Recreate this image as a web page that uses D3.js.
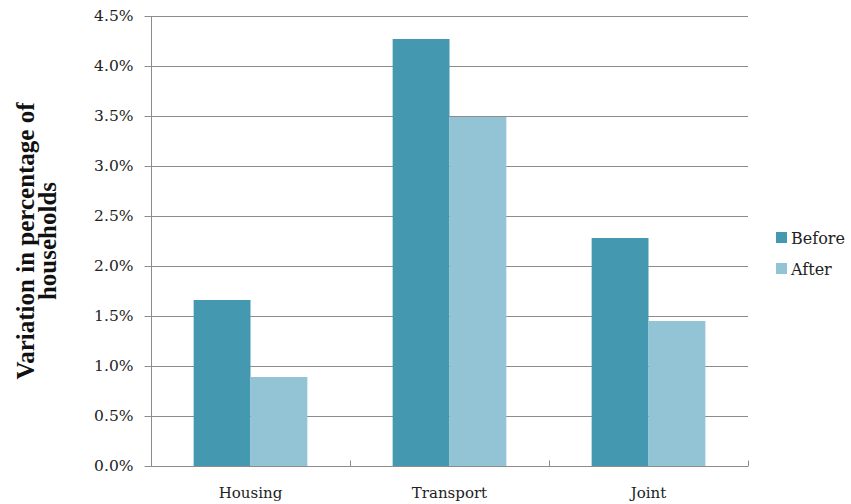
<!DOCTYPE html>
<html>
<head>
<meta charset="utf-8">
<script src="https://cdn.jsdelivr.net/npm/d3@7"></script>
<style>
  html, body { margin: 0; padding: 0; background: #fff; }
  svg { display: block; }
</style>
</head>
<body>
<svg id="chart" width="851" height="504"></svg>
<script>
// Household variation by category, before and after
const categories = ["Housing", "Transport", "Joint"];
const seriesNames = ["Before", "After"];
const beforeValues = [0.0166, 0.0427, 0.0228];
const afterValues = [0.0089, 0.0349, 0.0145];
const yTicks = [0, 0.005, 0.01, 0.015, 0.02, 0.025, 0.03, 0.035, 0.04, 0.045];
const colors = ["#4498B0", "#93C4D6"];

const svg = d3.select("#chart");
const margin = { left: 151, right: 103, top: 16, bottom: 38 };
const W = 851, H = 504;
const x0 = margin.left, x1 = W - margin.right;
const yTop = margin.top, yBot = H - margin.bottom;

const x = d3.scaleBand().domain(categories).range([x0, x1]).paddingInner(0).paddingOuter(0);
const inner = d3.scaleBand().domain(seriesNames).range([0, x.bandwidth()]).paddingInner(0).paddingOuter(0.75);
const y = d3.scaleLinear().domain([0, 0.045]).range([yBot, yTop]);

const serif = "'DejaVu Serif', 'Liberation Serif', serif";

// gridlines
svg.append("g")
  .selectAll("line")
  .data(yTicks.filter(d => d > 0))
  .join("line")
  .attr("x1", x0).attr("x2", x1)
  .attr("y1", d => Math.round(y(d)) + 0.5).attr("y2", d => Math.round(y(d)) + 0.5)
  .attr("stroke", "#8c8c8c").attr("stroke-width", 1);

// bars
const data = categories.map((c, i) => ({ cat: c, vals: [beforeValues[i], afterValues[i]] }));
svg.append("g")
  .selectAll("g")
  .data(data)
  .join("g")
  .attr("transform", d => `translate(${x(d.cat)},0)`)
  .selectAll("rect")
  .data(d => d.vals.map((v, j) => ({ v, s: seriesNames[j], j })))
  .join("rect")
  .attr("x", d => inner(d.s))
  .attr("width", inner.bandwidth())
  .attr("y", d => y(d.v))
  .attr("height", d => y(0) - y(d.v))
  .attr("fill", d => colors[d.j]);

// y axis
const yAxis = d3.axisLeft(y).tickValues(yTicks).tickFormat(d3.format(".1%")).tickSize(7).tickPadding(11);
const gy = svg.append("g").attr("transform", `translate(${x0 + 0.5},0)`).call(yAxis);
gy.select(".domain").attr("stroke", "#8c8c8c").attr("d", `M0,${yTop}V${yBot}`);
gy.selectAll(".tick line").attr("stroke", "#8c8c8c");
gy.selectAll(".tick text").attr("font-family", serif).attr("font-size", 15.5).attr("fill", "#222");

// x axis
const gx = svg.append("g").attr("transform", `translate(0,${yBot + 0.5})`);
gx.append("line").attr("x1", x0).attr("x2", x1).attr("stroke", "#8c8c8c");
gx.selectAll("line.tk")
  .data(categories.slice(1).map(c => x(c)).concat([x1]))
  .join("line").attr("class", "tk")
  .attr("x1", d => Math.round(d) + 0.5).attr("x2", d => Math.round(d) + 0.5)
  .attr("y1", -6).attr("y2", 0)
  .attr("stroke", "#8c8c8c");
gx.selectAll("text")
  .data(categories)
  .join("text")
  .attr("x", d => x(d) + x.bandwidth() / 2)
  .attr("y", 31)
  .attr("text-anchor", "middle")
  .attr("font-family", serif).attr("font-size", 15).attr("fill", "#222")
  .text(d => d);

// y axis title
const title = svg.append("text")
  .attr("transform", "translate(0,241) rotate(-90)")
  .attr("text-anchor", "middle")
  .attr("font-family", "'Liberation Serif', 'Times New Roman', serif")
  .attr("font-weight", "bold").attr("font-size", 25).attr("fill", "#111");
title.append("tspan").attr("x", 0).attr("y", 34).text("Variation in percentage of");
title.append("tspan").attr("x", 0).attr("y", 56).text("households");

// legend
const legend = svg.append("g").selectAll("g")
  .data(seriesNames)
  .join("g")
  .attr("transform", (d, i) => `translate(776,${232 + i * 31})`);
legend.append("rect").attr("width", 11).attr("height", 11).attr("fill", (d, i) => colors[i]);
legend.append("text").attr("x", 15).attr("y", 12)
  .attr("font-family", serif).attr("font-size", 16).attr("fill", "#222")
  .text(d => d);
</script>
</body>
</html>
